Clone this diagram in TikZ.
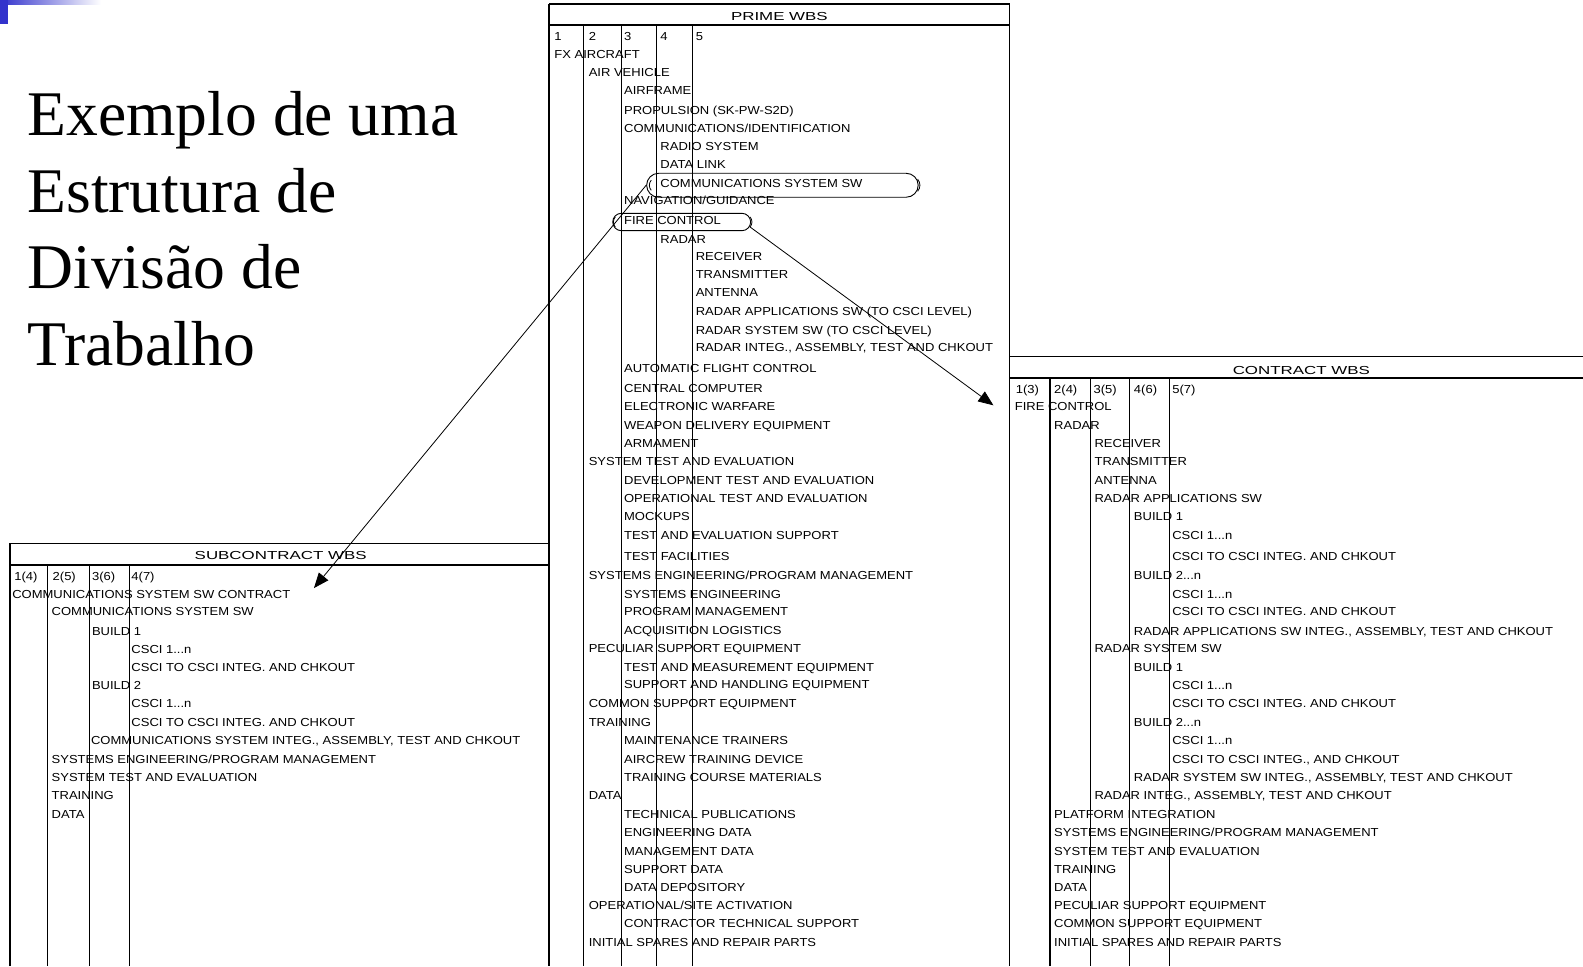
\documentclass[tikz,border=0pt]{standalone}
\usepackage{fontspec}
\setmainfont{Liberation Serif}
\newfontfamily\wbsfont[FakeStretch=1.12]{Liberation Sans}
\usetikzlibrary{arrows.meta,shapes.misc}
\definecolor{slideblue}{RGB}{51,51,204}
% table headings are set wider than the rows
\newcommand{\widehead}[1]{\scalebox{1.3}[1]{#1}}
\begin{document}
\begin{tikzpicture}[x=1pt,y=-1pt,
  wbs/.style={font=\wbsfont\fontsize{11.5}{12}\selectfont, anchor=base west, inner sep=0pt},
  wbshead/.style={font=\wbsfont\fontsize{11.5}{12}\selectfont, anchor=base, inner sep=0pt},
  title/.style={font=\fontsize{63}{76}\selectfont, anchor=base west, inner sep=0pt},
  frame/.style={line width=1.2pt},
  rule/.style={line width=1.1pt},
  capsule/.style={draw, rounded rectangle, line width=0.9pt, inner sep=0pt},
  link/.style={line width=0.8pt, -{Triangle[length=15pt,width=12pt]}}]
\useasboundingbox (0,0) rectangle (1568,957);

% slide corner decoration
\shade[left color=slideblue, right color=white] (0,0) rectangle (100,4);
\fill[slideblue] (0,0) rectangle (8,24);

% title
\node[title] (t1) at (27,134) {Exemplo de uma};
\node[title] (t2) at (27,210) {Estrutura de};
\node[title] (t3) at (27,286) {Divisão de};
\node[title] (t4) at (27,362) {Trabalho};

% ---------------- prime WBS ----------------
\draw[frame] (544,4) -- (1000,4) -- (1000,957);
\draw[line width=2.5pt] (544,4) -- (544,957);
\draw[frame] (544,24.8) -- (1000,24.8);
\foreach \cx in {578,616,650,686} \draw[rule] (\cx,24.8) -- (\cx,957);
\node[wbshead] (primehead) at (772,20.5) {\widehead{PRIME WBS}};
\foreach \x/\y/\t [count=\i] in {
  549/36/1, 583/36/2, 618/36/3, 654/36/4, 689/36/5,
  549/54/{FX AIRCRAFT},
  583/72/{AIR VEHICLE},
  618/90/{AIRFRAME},
  618/109/{PROPULSION (SK-PW-S2D)},
  618/127/{COMMUNICATIONS/IDENTIFICATION},
  654/145/{RADIO SYSTEM},
  654/163/{DATA LINK},
  654/182/{COMMUNICATIONS SYSTEM SW},
  618/199/{NAVIGATION/GUIDANCE},
  618/218/{FIRE CONTROL},
  654/237/{RADAR},
  689/254/{RECEIVER},
  689/272/{TRANSMITTER},
  689/290/{ANTENNA},
  689/309/{RADAR APPLICATIONS SW (TO CSCI LEVEL)},
  689/327/{RADAR SYSTEM SW (TO CSCI LEVEL)},
  689/344/{RADAR INTEG., ASSEMBLY, TEST AND CHKOUT},
  618/365/{AUTOMATIC FLIGHT CONTROL},
  618/385/{CENTRAL COMPUTER},
  618/403/{ELECTRONIC WARFARE},
  618/421/{WEAPON DELIVERY EQUIPMENT},
  618/439/{ARMAMENT},
  583/457/{SYSTEM TEST AND EVALUATION},
  618/476/{DEVELOPMENT TEST AND EVALUATION},
  618/494/{OPERATIONAL TEST AND EVALUATION},
  618/512/{MOCKUPS},
  618/530/{TEST AND EVALUATION SUPPORT},
  618/551/{TEST FACILITIES},
  583/570/{SYSTEMS ENGINEERING/PROGRAM MANAGEMENT},
  618/589/{SYSTEMS ENGINEERING},
  618/606/{PROGRAM MANAGEMENT},
  618/624/{ACQUISITION LOGISTICS},
  583/642/{PECULIAR SUPPORT EQUIPMENT},
  618/661/{TEST AND MEASUREMENT EQUIPMENT},
  618/678/{SUPPORT AND HANDLING EQUIPMENT},
  583/697/{COMMON SUPPORT EQUIPMENT},
  583/716/{TRAINING},
  618/733/{MAINTENANCE TRAINERS},
  618/752/{AIRCREW TRAINING DEVICE},
  618/770/{TRAINING COURSE MATERIALS},
  583/788/{DATA},
  618/807/{TECHNICAL PUBLICATIONS},
  618/825/{ENGINEERING DATA},
  618/843/{MANAGEMENT DATA},
  618/861/{SUPPORT DATA},
  618/879/{DATA DEPOSITORY},
  583/897/{OPERATIONAL/SITE ACTIVATION},
  618/915/{CONTRACTOR TECHNICAL SUPPORT},
  583/934/{INITIAL SPARES AND REPAIR PARTS}}
  \node[wbs] (p\i) at (\x,\y+4) {\t};

% encircled items
\node[capsule, minimum width=269pt, minimum height=23.7pt] (commcap) at (775,183.5) {};
\node[capsule, minimum width=136.6pt, minimum height=17.2pt] (firecap) at (675.2,219.9) {};
\draw[line width=0.8pt] ([xshift=5pt,yshift=5pt]commcap.west) to[bend right=40] ([xshift=5pt,yshift=-5pt]commcap.west);
\draw[line width=0.8pt] ([xshift=-1pt,yshift=6pt]commcap.east) to[bend left=40] ([xshift=-1pt,yshift=-6pt]commcap.east);
\draw[line width=0.8pt] ([xshift=3pt,yshift=5pt]firecap.west) to[bend right=40] ([xshift=3pt,yshift=-5pt]firecap.west);
\draw[line width=0.8pt] ([xshift=-1pt,yshift=5pt]firecap.east) to[bend left=40] ([xshift=-1pt,yshift=-5pt]firecap.east);

% ---------------- contract WBS ----------------
\draw[frame] (1000,353.3) -- (1568,353.3);
\draw[frame] (1000,374.4) -- (1568,374.4);
\foreach \cx in {1040,1080,1119,1158} \draw[rule] (\cx,374.4) -- (\cx,957);
\node[wbshead] (contracthead) at (1289,370.5) {\widehead{CONTRACT WBS}};
\foreach \x/\y/\t [count=\i] in {
  1006/386/1(3), 1044/386/2(4), 1083/386/3(5), 1123/386/4(6), 1161/386/5(7),
  1005/403/{FIRE CONTROL},
  1044/421/{RADAR},
  1084/439/{RECEIVER},
  1084/457/{TRANSMITTER},
  1084/476/{ANTENNA},
  1084/494/{RADAR APPLICATIONS SW},
  1123/512/{BUILD 1},
  1161/530/{CSCI 1...n},
  1161/551/{CSCI TO CSCI INTEG. AND CHKOUT},
  1123/570/{BUILD 2...n},
  1161/589/{CSCI 1...n},
  1161/606/{CSCI TO CSCI INTEG. AND CHKOUT},
  1123/625/{RADAR APPLICATIONS SW INTEG., ASSEMBLY, TEST AND CHKOUT},
  1084/642/{RADAR SYSTEM SW},
  1123/661/{BUILD 1},
  1161/679/{CSCI 1...n},
  1161/697/{CSCI TO CSCI INTEG. AND CHKOUT},
  1123/716/{BUILD 2...n},
  1161/733/{CSCI 1...n},
  1161/752/{CSCI TO CSCI INTEG., AND CHKOUT},
  1123/770/{RADAR SYSTEM SW INTEG., ASSEMBLY, TEST AND CHKOUT},
  1084/788/{RADAR INTEG., ASSEMBLY, TEST AND CHKOUT},
  1044/807/{PLATFORM INTEGRATION},
  1044/825/{SYSTEMS ENGINEERING/PROGRAM MANAGEMENT},
  1044/843/{SYSTEM TEST AND EVALUATION},
  1044/861/{TRAINING},
  1044/879/{DATA},
  1044/897/{PECULIAR SUPPORT EQUIPMENT},
  1044/915/{COMMON SUPPORT EQUIPMENT},
  1044/934/{INITIAL SPARES AND REPAIR PARTS}}
  \node[wbs] (c\i) at (\x,\y+4) {\t};

% ---------------- subcontract WBS ----------------
\draw[frame] (10,957) -- (10,538.5) -- (544,538.5);
\draw[frame] (10,559.6) -- (544,559.6);
\foreach \cx in {47,89,128} \draw[rule] (\cx,559.6) -- (\cx,957);
\node[wbshead] (subhead) at (278,554.5) {\widehead{SUBCONTRACT WBS}};
\foreach \x/\y/\t [count=\i] in {
  14/571/1(4), 52/571/2(5), 91/571/3(6), 130/571/4(7),
  12/589/{COMMUNICATIONS SYSTEM SW CONTRACT},
  51/606/{COMMUNICATIONS SYSTEM SW},
  91/625/{BUILD 1},
  130/643/{CSCI 1...n},
  130/661/{CSCI TO CSCI INTEG. AND CHKOUT},
  91/679/{BUILD 2},
  130/697/{CSCI 1...n},
  130/716/{CSCI TO CSCI INTEG. AND CHKOUT},
  90/733/{COMMUNICATIONS SYSTEM INTEG., ASSEMBLY, TEST AND CHKOUT},
  51/752/{SYSTEMS ENGINEERING/PROGRAM MANAGEMENT},
  51/770/{SYSTEM TEST AND EVALUATION},
  51/788/{TRAINING},
  51/807/{DATA}}
  \node[wbs] (s\i) at (\x,\y+4) {\t};

% ---------------- links between the breakdowns ----------------
\coordinate (contracttip) at (984,401.5);
\coordinate (subtip) at (311,582.5);
\draw[link] (firecap.-4) -- (contracttip);
\draw[link] (commcap.west) -- (subtip);
\end{tikzpicture}
\end{document}
